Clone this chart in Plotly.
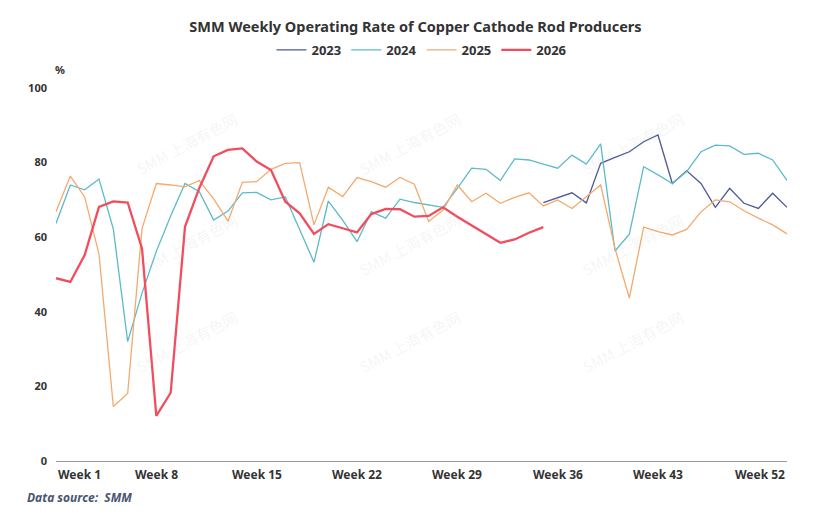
import plotly.graph_objects as go

weeks = list(range(1, 53))

# 2023: data only from week 35 onward
y2023_weeks = list(range(35, 53))
y2023 = [69.3, 70.6, 71.9, 69.2, 79.8, 81.4, 82.9, 85.6, 87.4, 74.4, 77.8, 74.4,
         68.0, 73.1, 69.1, 67.7, 71.8, 68.0]

y2024 = [63.7, 74.0, 72.7, 75.6, 62.2, 32.0, 45.0, 56.2, 65.7, 74.4,
         72.2, 64.6, 67.0, 71.9, 72.0, 70.0, 70.8, 61.9, 53.3, 69.7,
         64.6, 58.8, 66.8, 65.1, 70.2, 69.3, 68.6, 68.0, 73.1, 78.5,
         78.2, 75.2, 81.0, 80.7, 79.6, 78.5, 82.0, 79.6, 85.0, 56.3,
         60.8, 78.9, 76.7, 74.4, 77.6, 82.9, 84.7, 84.5, 82.2, 82.5,
         80.7, 75.2]

y2025 = [66.8, 76.4, 70.8, 55.5, 14.6, 18.1, 62.3, 74.4, 74.0, 73.5,
         75.2, 70.3, 64.3, 74.7, 74.9, 78.2, 79.8, 80.0, 63.3, 73.4,
         70.9, 76.0, 74.9, 73.4, 76.0, 74.2, 64.2, 67.3, 74.0, 69.5,
         71.8, 69.1, 70.7, 71.9, 68.4, 70.0, 67.7, 70.8, 74.0, 57.0,
         43.7, 62.7, 61.5, 60.6, 62.1, 66.8, 70.0, 69.5, 67.1, 65.1,
         63.3, 60.9]

y2026_weeks = list(range(1, 36))
y2026 = [49.0, 48.0, 55.2, 68.1, 69.6, 69.3, 57.0, 12.1, 18.3, 62.8,
         73.2, 81.7, 83.4, 83.8, 80.3, 78.0, 69.5, 66.4, 60.9, 63.5,
         62.4, 61.3, 66.2, 67.6, 67.5, 65.5, 65.7, 68.0, 65.5, 63.1,
         60.7, 58.5, 59.4, 61.2, 62.7]

tick_weeks = [1, 8, 15, 22, 29, 36, 43, 52]
tick_labels = ["Week %d" % w for w in tick_weeks]
y_ticks = [0, 20, 40, 60, 80, 100]

W, H = 831, 522
L, R, T, B = 56, 44, 88, 61
PW, PH = W - L - R, H - T - B


def px(xp):
    return (xp - L) / PW


def py(yp):
    return (H - B - yp) / PH


FONT = "Noto Sans"
fig = go.Figure()
fig.add_trace(go.Scatter(x=y2023_weeks, y=y2023, mode="lines", name="2023",
                         line=dict(color="#4d5a93", width=1.3)))
fig.add_trace(go.Scatter(x=weeks, y=y2024, mode="lines", name="2024",
                         line=dict(color="#5bbacb", width=1.3)))
fig.add_trace(go.Scatter(x=weeks, y=y2025, mode="lines", name="2025",
                         line=dict(color="#f3aa6e", width=1.3)))
fig.add_trace(go.Scatter(x=y2026_weeks, y=y2026, mode="lines", name="2026",
                         line=dict(color="#f04d5e", width=2.3)))

annotations = []
# watermarks (drawn first, faint)
for wx in [130, 410, 690]:
    for wy in [105, 245, 380]:
        annotations.append(dict(x=px(wx), y=py(wy), xref="paper", yref="paper",
                                text="SMM 上海有色网", showarrow=False, textangle=-28,
                                font=dict(family="Noto Sans CJK SC", size=15,
                                          color="rgba(190,190,190,0.15)")))

for w, lab in zip(tick_weeks, tick_labels):
    anchor = "left" if w == tick_weeks[0] else ("right" if w == tick_weeks[-1] else "center")
    annotations.append(dict(x=w, y=0, xref="x", yref="y", text=lab, showarrow=False,
                            xanchor=anchor, yanchor="top", yshift=-3,
                            font=dict(family=FONT, size=12, color="#333333", weight="bold")))

annotations.append(dict(x=px(60), y=py(70), xref="paper", yref="paper", text="%",
                        showarrow=False, xanchor="center", yanchor="middle",
                        font=dict(family=FONT, size=11, color="#333333", weight="bold")))
annotations.append(dict(x=px(25), y=py(497), xref="paper", yref="paper",
                        text="<i>Data source:  SMM</i>", showarrow=False,
                        xanchor="left", yanchor="middle",
                        font=dict(family=FONT, size=12, color="#4a5670", weight="bold")))

fig.update_layout(
    width=W, height=H,
    margin=dict(l=L, r=R, t=T, b=B, autoexpand=False),
    paper_bgcolor="white", plot_bgcolor="white",
    title=dict(text="<b>SMM Weekly Operating Rate of Copper Cathode Rod Producers</b>",
               x=0.5, xanchor="center", y=1 - 27 / H, yanchor="middle", yref="container",
               font=dict(family=FONT, size=14.5, color="#333333")),
    legend=dict(orientation="h", x=0.5, xanchor="center", y=1 - 50 / H, yanchor="middle",
                yref="container", font=dict(family=FONT, size=13, color="#333333", weight="bold"),
                itemwidth=30, traceorder="normal"),
    xaxis=dict(range=[1, 52], showgrid=False, zeroline=False, showline=True,
               linecolor="#9a9a9a", linewidth=1, showticklabels=False, ticks=""),
    yaxis=dict(range=[0, 100], tickvals=y_ticks, showgrid=False, zeroline=False,
               showline=False, ticks="", ticklabelstandoff=8,
               tickfont=dict(family=FONT, size=11, color="#333333", weight="bold")),
    annotations=annotations,
    showlegend=True,
)

fig.write_html("out.html", config={"displayModeBar": False},
               post_script="document.body.style.margin='0';")
